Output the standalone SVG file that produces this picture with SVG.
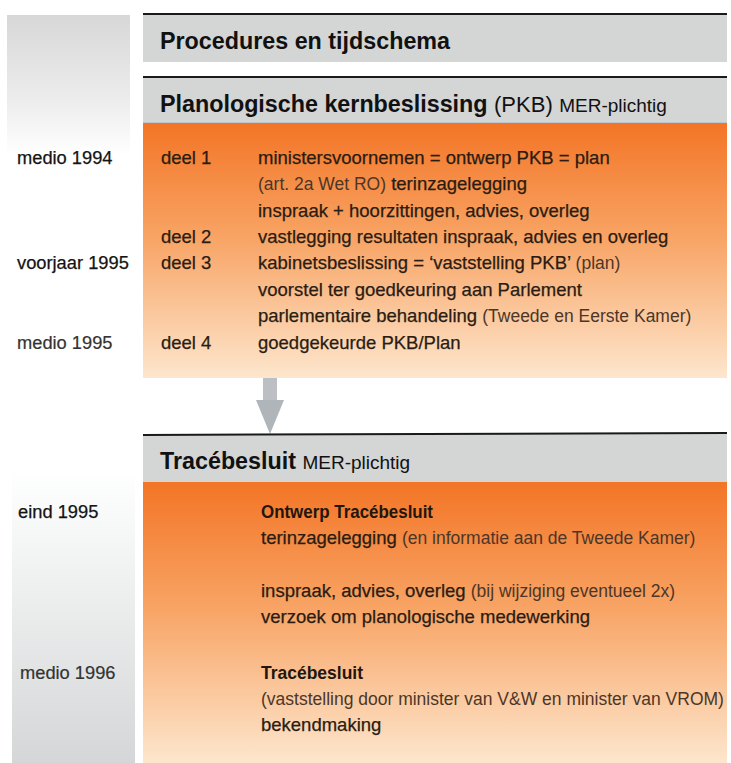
<svg xmlns="http://www.w3.org/2000/svg" width="731" height="763" viewBox="0 0 731 763">
<style>
text{font-family:"Liberation Sans",Arial,sans-serif}
.hdr{font-weight:bold;font-size:23.3px;fill:#111}
.hreg{font-weight:normal}
.mer{font-weight:normal;font-size:19px}
.lbl{font-size:18.3px;fill:#141414;stroke:#141414;stroke-width:0.25}
.lbl2{font-size:18.3px;fill:#333;stroke:#333;stroke-width:0.2}
.body{font-size:18.5px;fill:#2a1c12;stroke:#2a1c12;stroke-width:0.25}
.lt{font-size:17.5px;fill:#4d3627;stroke:none}
.b{font-weight:bold;font-size:18.5px;fill:#22160e}
.bar{fill:#d4d5d5}
.rule{stroke:#1a1a1a;stroke-width:2}
.box{fill:url(#orange)}
</style>
<defs>
<linearGradient id="orange" x1="0" y1="0" x2="0" y2="1">
<stop offset="0" stop-color="#f37526"/>
<stop offset="0.45" stop-color="#f8a465"/>
<stop offset="1" stop-color="#fde6cd"/>
</linearGradient>
<linearGradient id="colTop" x1="0" y1="0" x2="0" y2="1">
<stop offset="0" stop-color="#d7d7d7"/>
<stop offset="0.6" stop-color="#ececec"/>
<stop offset="1" stop-color="#ffffff"/>
</linearGradient>
<linearGradient id="colBot" x1="0" y1="0" x2="0" y2="1">
<stop offset="0" stop-color="#ffffff"/>
<stop offset="0.4" stop-color="#eef0f0"/>
<stop offset="1" stop-color="#d4d6d7"/>
</linearGradient>
</defs>
<rect width="731" height="763" fill="#ffffff"/>
<g id="timeline-column">
<rect x="7" y="15" width="123" height="140" fill="url(#colTop)"/>
<rect x="12" y="470" width="123" height="293" fill="url(#colBot)"/>
</g>
<g id="title">
<rect class="bar" x="143" y="14" width="584" height="48"/>
<line class="rule" x1="143" y1="14" x2="727" y2="14"/>
<text class="hdr" x="160" y="49">Procedures en tijdschema</text>
</g>
<g id="pkb">
<rect class="bar" x="143" y="77" width="584" height="46"/>
<line x1="143" y1="122.5" x2="727" y2="122.5" stroke="#bcc6cc" stroke-width="1"/>
<line class="rule" x1="143" y1="77" x2="727" y2="77"/>
<text class="hdr" x="160" y="112">Planologische kernbeslissing <tspan class="hreg" font-size="22">(PKB)</tspan> <tspan class="mer">MER-plichtig</tspan></text>
<rect class="box" x="143" y="123" width="584" height="255"/>
<text class="lbl" x="17" y="164">medio 1994</text>
<text class="lbl" x="17" y="269">voorjaar 1995</text>
<text class="lbl2" x="17" y="349">medio 1995</text>
<text class="body" x="161" y="164">deel 1</text>
<text class="body" x="161" y="243">deel 2</text>
<text class="body" x="161" y="269">deel 3</text>
<text class="body" x="161" y="349">deel 4</text>
<text class="body" x="258" y="164">ministersvoornemen = ontwerp PKB = plan</text>
<text class="body" x="258" y="190"><tspan class="lt">(art. 2a Wet RO)</tspan> terinzagelegging</text>
<text class="body" x="258" y="216.5">inspraak + hoorzittingen, advies, overleg</text>
<text class="body" x="258" y="243">vastlegging resultaten inspraak, advies en overleg</text>
<text class="body" x="258" y="269">kabinetsbeslissing = ‘vaststelling PKB’ <tspan class="lt">(plan)</tspan></text>
<text class="body" x="258" y="295.5">voorstel ter goedkeuring aan Parlement</text>
<text class="body" x="258" y="322">parlementaire behandeling <tspan class="lt">(Tweede en Eerste Kamer)</tspan></text>
<text class="body" x="258" y="349">goedgekeurde PKB/Plan</text>
</g>
<g id="connectors">
<rect x="263" y="378" width="14" height="24" fill="#bcc0c4"/>
<polygon points="256,400 284,400 270,434" fill="#b0b5ba"/>
</g>
<g id="tracebesluit">
<rect class="bar" x="143" y="434" width="584" height="48"/>
<line class="rule" x1="143" y1="435" x2="727" y2="433"/>
<text class="hdr" x="160" y="469">Tracébesluit <tspan class="mer">MER-plichtig</tspan></text>
<rect class="box" x="143" y="482" width="584" height="281"/>
<text class="lbl" x="18" y="518">eind 1995</text>
<text class="lbl2" x="20" y="679">medio 1996</text>
<text class="b" x="261" y="518" textLength="172" lengthAdjust="spacingAndGlyphs">Ontwerp Tracébesluit</text>
<text class="body" x="261" y="544">terinzagelegging <tspan class="lt">(en informatie aan de Tweede Kamer)</tspan></text>
<text class="body" x="261" y="597">inspraak, advies, overleg <tspan class="lt">(bij wijziging eventueel 2x)</tspan></text>
<text class="body" x="261" y="623">verzoek om planologische medewerking</text>
<text class="b" x="261" y="679" textLength="102" lengthAdjust="spacingAndGlyphs">Tracébesluit</text>
<text class="lt" x="261" y="705">(vaststelling door minister van V&amp;W en minister van VROM)</text>
<text class="body" x="261" y="731">bekendmaking</text>
</g>
</svg>
